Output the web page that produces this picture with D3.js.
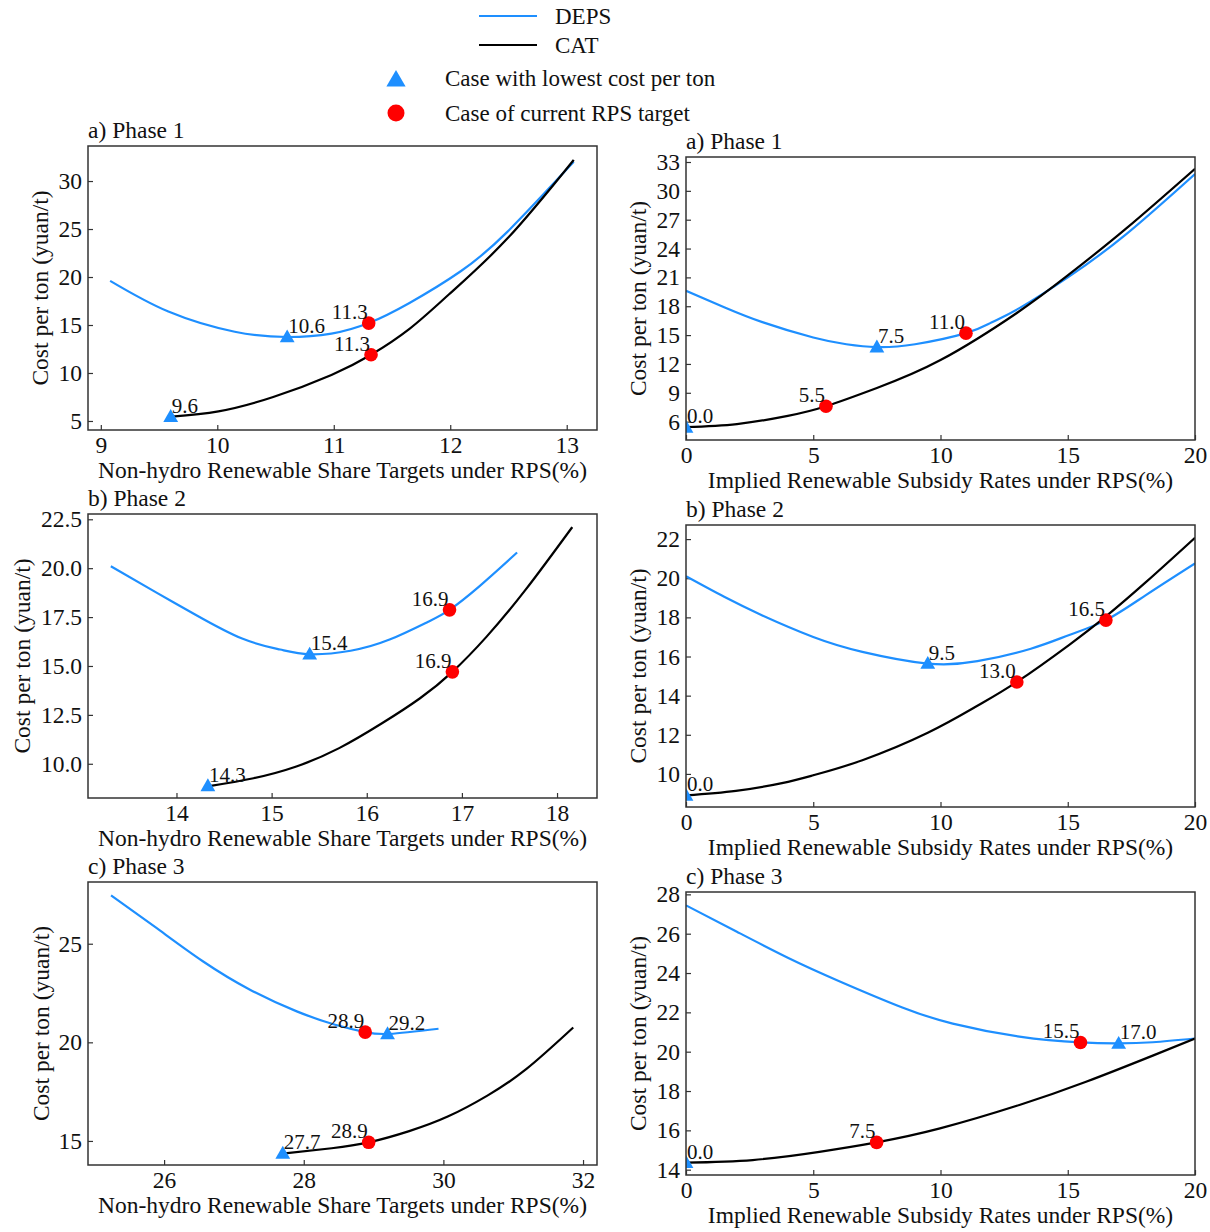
<!DOCTYPE html>
<html lang="en">
<head>
<meta charset="UTF-8">
<title>Cost per ton under RPS</title>
<script src="https://cdn.jsdelivr.net/npm/d3@7"></script>
<style>
  body { margin: 0; background: #fff; }
  text { font-family: "Liberation Serif", "Times New Roman", serif; fill: #111; }
</style>
</head>
<body>
<svg id="chart"></svg>
<script>
// ---- data ----
var shareTitle = "Non-hydro Renewable Share Targets under RPS(%)";
var subsidyTitle = "Implied Renewable Subsidy Rates under RPS(%)";
var yTitle = "Cost per ton (yuan/t)";
var panelTitles = ["a) Phase 1", "a) Phase 1", "b) Phase 2", "b) Phase 2", "c) Phase 3", "c) Phase 3"];

// phase 1, share targets
var depsShare1 = [[9.08,19.6],[9.58,16.4],[10.15,14.3],[10.6,13.75],[10.98,14.1],[11.3,15.2],[11.65,17.3],[12.09,20.6],[12.49,24.7],[13.06,32.0]];
var catShare1  = [[9.61,5.45],[10.01,6.0],[10.48,7.5],[10.98,9.8],[11.32,11.9],[11.65,14.6],[11.99,18.2],[12.49,24.0],[13.06,32.2]];
var lowShare1 = [[10.6,13.75],[9.6,5.45]];
var rpsShare1 = [[11.3,15.2],[11.32,11.9]];
// phase 1, subsidy rates
var depsSub1 = [[0,19.6],[1.5,17.9],[3.0,16.35],[5.0,14.75],[6.3,14.05],[7.5,13.75],[9.0,14.05],[11.0,15.2],[12.0,16.3],[13.1,17.8],[15.06,21.1],[17.3,25.5],[20,31.75]];
var catSub1  = [[0,5.44],[2.0,5.75],[4.0,6.6],[5.5,7.6],[7.5,9.5],[10.0,12.4],[13.0,17.3],[15.0,21.2],[17.3,26.1],[20,32.3]];
var lowSub1 = [[7.5,13.75],[0,5.4]];
var rpsSub1 = [[11.0,15.2],[5.5,7.6]];
// phase 2, share targets
var depsShare2 = [[13.31,20.1],[13.79,18.75],[14.2,17.62],[14.69,16.4],[15.09,15.84],[15.4,15.6],[15.83,15.78],[16.24,16.35],[16.64,17.25],[16.87,17.87],[17.18,19.06],[17.58,20.8]];
var catShare2  = [[14.36,8.87],[14.81,9.26],[15.26,9.86],[15.71,10.8],[16.16,12.07],[16.56,13.35],[16.9,14.7],[17.26,16.5],[17.67,18.9],[18.16,22.1]];
var lowShare2 = [[15.4,15.6],[14.33,8.87]];
var rpsShare2 = [[16.87,17.87],[16.9,14.7]];
// phase 2, subsidy rates
var depsSub2 = [[0,20.1],[1.5,19.05],[3.0,18.1],[5.0,17.0],[6.93,16.24],[9.5,15.64],[11.45,15.76],[13.55,16.4],[15.06,17.1],[16.5,17.86],[18.07,19.14],[20,20.76]];
var catSub2  = [[0,8.9],[1.96,9.13],[3.77,9.53],[5.0,9.93],[6.93,10.7],[9.5,12.1],[11.45,13.48],[13.0,14.7],[15.06,16.6],[16.5,18.05],[18.07,19.8],[20,22.07]];
var lowSub2 = [[9.5,15.64],[0,8.9]];
var rpsSub2 = [[16.5,17.86],[13.0,14.7]];
// phase 3, share targets
var depsShare3 = [[25.24,27.45],[25.89,25.8],[26.56,24.1],[27.23,22.67],[27.9,21.57],[28.45,20.89],[28.88,20.52],[29.23,20.43],[29.93,20.69]];
var catShare3  = [[27.73,14.37],[28.4,14.63],[28.93,14.93],[29.51,15.5],[30.07,16.25],[30.63,17.3],[31.19,18.65],[31.86,20.75]];
var lowShare3 = [[29.2,20.43],[27.7,14.37]];
var rpsShare3 = [[28.88,20.52],[28.93,14.93]];
// phase 3, subsidy rates
var depsSub3 = [[0,27.44],[2,26.1],[4,24.78],[6,23.6],[8.5,22.25],[10.48,21.43],[13.1,20.77],[15.49,20.47],[17.0,20.42],[18.34,20.48],[20,20.67]];
var catSub3  = [[0,14.36],[2.62,14.49],[5.24,14.91],[7.49,15.39],[9.98,16.1],[13.1,17.29],[15.72,18.47],[18.34,19.8],[20,20.67]];
var lowSub3 = [[17.0,20.42],[0,14.36]];
var rpsSub3 = [[15.5,20.47],[7.49,15.39]];

// axis ranges and ticks
var xDomains = [[8.89,13.26],[0,20],[13.07,18.42],[0,20],[24.91,32.2],[0,20]];
var yDomains = [[4.06,33.65],[4.09,33.52],[8.25,22.77],[8.31,22.72],[13.78,28.13],[13.73,28.12]];
var xTickVals = [[9,10,11,12,13],[0,5,10,15,20],[14,15,16,17,18],[0,5,10,15,20],[26,28,30,32],[0,5,10,15,20]];
var yTickVals = [[5,10,15,20,25,30],[6,9,12,15,18,21,24,27,30,33],[10,12.5,15,17.5,20,22.5],[10,12,14,16,18,20,22],[15,20,25],[14,16,18,20,22,24,26,28]];
var yTickFmt = ["d","d",".1f","d","d","d"];

var legendLines = ["DEPS", "CAT"];
var legendMarks = ["Case with lowest cost per ton", "Case of current RPS target"];

// ---- layout ----
var W = 1210, H = 1232;
var blue = "#1e8fff", red = "#ff0000";
// frame boxes [left, top, right, bottom]
var frames = [[88,146,597,430],[686,157,1195,440],[88,514,597,798],[686,525,1195,807],[88,882,597,1165],[686,892,1195,1175]];
var yTitleX = [40, 638, 22, 638, 41, 638];

var panels = [
  {deps: depsShare1, cat: catShare1, low: lowShare1, rps: rpsShare1, xTitle: shareTitle},
  {deps: depsSub1, cat: catSub1, low: lowSub1, rps: rpsSub1, xTitle: subsidyTitle},
  {deps: depsShare2, cat: catShare2, low: lowShare2, rps: rpsShare2, xTitle: shareTitle},
  {deps: depsSub2, cat: catSub2, low: lowSub2, rps: rpsSub2, xTitle: subsidyTitle},
  {deps: depsShare3, cat: catShare3, low: lowShare3, rps: rpsShare3, xTitle: shareTitle},
  {deps: depsSub3, cat: catSub3, low: lowSub3, rps: rpsSub3, xTitle: subsidyTitle}
];

var svg = d3.select("#chart").attr("width", W).attr("height", H);
svg.append("rect").attr("width", W).attr("height", H).attr("fill", "#fff");
var defs = svg.append("defs");

var triSym = d3.symbol().type(d3.symbolTriangle);

panels.forEach(function(p, i) {
  var f = frames[i];
  var x = d3.scaleLinear().domain(xDomains[i]).range([f[0], f[2]]);
  var y = d3.scaleLinear().domain(yDomains[i]).range([f[3], f[1]]);
  var g = svg.append("g");

  defs.append("clipPath").attr("id", "clip" + i)
    .append("rect").attr("x", f[0]).attr("y", f[1])
    .attr("width", f[2] - f[0]).attr("height", f[3] - f[1]);

  // axes, ticks pointing inward
  var xAxis = d3.axisBottom(x).tickValues(xTickVals[i]).tickSize(-5).tickPadding(6)
    .tickFormat(d3.format("d"));
  var yAxis = d3.axisLeft(y).tickValues(yTickVals[i]).tickSize(-5).tickPadding(6)
    .tickFormat(d3.format(yTickFmt[i]));
  var gx = g.append("g").attr("transform", "translate(0," + f[3] + ")").call(xAxis);
  var gy = g.append("g").attr("transform", "translate(" + f[0] + ",0)").call(yAxis);
  [gx, gy].forEach(function(a) {
    a.select(".domain").remove();
    a.selectAll(".tick line").attr("stroke", "#333").attr("stroke-width", 1.2);
    a.selectAll(".tick text").attr("font-size", 23.5).attr("fill", "#111")
      .style("font-family", "'Liberation Serif', 'Times New Roman', serif");
  });

  var line = d3.line().x(function(d) { return x(d[0]); }).y(function(d) { return y(d[1]); })
    .curve(d3.curveNatural);
  var plot = g.append("g").attr("clip-path", "url(#clip" + i + ")");
  plot.append("path").datum(p.deps).attr("d", line)
    .attr("fill", "none").attr("stroke", blue).attr("stroke-width", 2.2);
  plot.append("path").datum(p.cat).attr("d", line)
    .attr("fill", "none").attr("stroke", "#000").attr("stroke-width", 2.2);

  plot.selectAll(".low").data(p.low).enter().append("path")
    .attr("d", triSym.size(95)())
    .attr("transform", function(d) { return "translate(" + x(d[0]) + "," + (y(d[1]) + 1) + ")"; })
    .attr("fill", blue);
  plot.selectAll(".rps").data(p.rps).enter().append("circle")
    .attr("cx", function(d) { return x(d[0]); })
    .attr("cy", function(d) { return y(d[1]); })
    .attr("r", 6.8).attr("fill", red);

  g.selectAll(".lowlab").data(p.low).enter().append("text")
    .attr("x", function(d) { return x(d[0]) + 1; })
    .attr("y", function(d) { return y(d[1]) - 4; })
    .attr("font-size", 21)
    .text(function(d) { return d[0].toFixed(1); });
  g.selectAll(".rpslab").data(p.rps).enter().append("text")
    .attr("x", function(d) { return x(d[0]) - 1; })
    .attr("y", function(d) { return y(d[1]) - 4; })
    .attr("text-anchor", "end").attr("font-size", 21)
    .text(function(d) { return d[0].toFixed(1); });

  // frame
  g.append("rect").attr("x", f[0]).attr("y", f[1])
    .attr("width", f[2] - f[0]).attr("height", f[3] - f[1])
    .attr("fill", "none").attr("stroke", "#333").attr("stroke-width", 1.5);

  // titles
  g.append("text").attr("x", f[0]).attr("y", f[1] - 8).attr("font-size", 23.5).text(panelTitles[i]);
  g.append("text").attr("x", (f[0] + f[2]) / 2).attr("y", f[3] + 48)
    .attr("text-anchor", "middle").attr("font-size", 23.5).text(p.xTitle);
  g.append("text").attr("transform", "translate(" + yTitleX[i] + "," + (f[1] + f[3]) / 2 + ") rotate(-90)")
    .attr("text-anchor", "middle").attr("dy", "0.35em").attr("font-size", 23.5).text(yTitle);
});

// legend
var leg = svg.append("g");
leg.selectAll(".ll").data(legendLines).enter().append("line")
  .attr("x1", 479).attr("x2", 537)
  .attr("y1", function(d, k) { return 16 + k * 29; })
  .attr("y2", function(d, k) { return 16 + k * 29; })
  .attr("stroke", function(d, k) { return k === 0 ? blue : "#000"; })
  .attr("stroke-width", 2.2);
leg.selectAll(".lt").data(legendLines).enter().append("text")
  .attr("x", 555).attr("y", function(d, k) { return 16 + k * 29; })
  .attr("dy", "0.35em").attr("font-size", 23).text(function(d) { return d; });
leg.append("path").attr("d", triSym.size(160)())
  .attr("transform", "translate(396,81)").attr("fill", blue);
leg.append("circle").attr("cx", 396).attr("cy", 113).attr("r", 8.5).attr("fill", red);
leg.selectAll(".mt").data(legendMarks).enter().append("text")
  .attr("x", 445).attr("y", function(d, k) { return 78 + k * 35; })
  .attr("dy", "0.35em").attr("font-size", 23).text(function(d) { return d; });
</script>
</body>
</html>
